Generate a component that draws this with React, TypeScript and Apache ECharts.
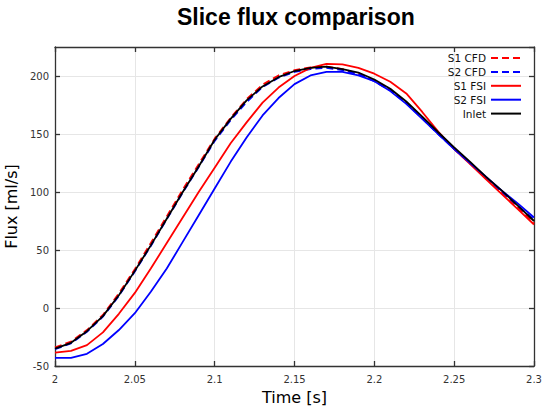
import React, { useEffect, useRef } from "react";
import * as echarts from "echarts";

const times = [
  2.0, 2.01, 2.02, 2.03, 2.04, 2.05, 2.06, 2.07, 2.08, 2.09, 2.1, 2.11, 2.12,
  2.13, 2.14, 2.15, 2.16, 2.17, 2.18, 2.19, 2.2, 2.21, 2.22, 2.23, 2.24, 2.25,
  2.26, 2.27, 2.28, 2.29, 2.3,
];

const s1Cfd = [
  -34, -29, -19, -6, 12.5, 33.5, 56, 79, 102, 124, 146, 164, 180, 192.5, 200.5,
  205, 207.5, 208, 206, 202, 196, 188, 177, 164, 150.5, 137.5, 125, 112, 99.5,
  86.5, 73,
];
const s2Cfd = [
  -35.5, -30.5, -20.5, -7.5, 10.5, 31.5, 53.5, 76.5, 99.5, 121.5, 144, 162,
  177.5, 190.5, 198.5, 203.5, 206, 207, 205, 201.5, 195.5, 187.5, 176.5, 163.5,
  150, 137, 124.5, 112, 100, 88, 76,
];
const s1Fsi = [
  -38.5, -37, -32, -21, -5, 13, 34, 56, 78, 100, 121, 142, 160, 177, 190, 200,
  207, 210.5, 210, 207, 202, 195, 185, 169, 152, 137, 124, 111, 98, 85, 72,
];
const s2Fsi = [
  -43, -43, -39.5, -31, -19, -4.5, 14, 34, 57, 80, 103, 126, 147, 166, 181,
  193, 200.5, 203.5, 203.5, 200.5, 195.5, 187, 176, 163, 150, 137, 125, 113,
  101, 90, 78,
];
const inlet = [
  -35, -30, -20, -7, 11, 32, 54, 77, 100, 122, 145, 163, 179, 191, 199, 204.3,
  207, 208, 206, 203, 197, 189, 178, 165, 151.5, 138.5, 126, 113, 101, 88, 75,
];

const seriesNames = ["S1 CFD", "S2 CFD", "S1 FSI", "S2 FSI", "Inlet"];
const seriesColors = ["#ff0000", "#0000ff", "#ff0000", "#0000ff", "#000000"];
const seriesDashed = [true, true, false, false, false];
const seriesValues = [s1Cfd, s2Cfd, s1Fsi, s2Fsi, inlet];

const FONT = "DejaVu Sans";

export default function App() {
  const ref = useRef<HTMLDivElement>(null);

  useEffect(() => {
    if (!ref.current) return;
    const chart = echarts.init(ref.current, null, { renderer: "svg" });
    const axisLineStyle = { color: "#333333", width: 1.3 };
    const fmt = (v: number) => String(+(+v).toFixed(2));

    chart.setOption({
      animation: false,
      backgroundColor: "#ffffff",
      title: {
        text: "Slice flux comparison",
        left: 172,
        top: 0,
        textStyle: {
          fontFamily: "Liberation Sans",
          fontWeight: "bold",
          fontSize: 23,
          color: "#000000",
        },
      },
      legend: {
        orient: "vertical",
        right: 28,
        top: 52.5,
        align: "right",
        itemWidth: 30,
        itemHeight: 13,
        itemGap: 2.9,
        padding: 0,
        data: seriesNames,
        textStyle: { fontFamily: FONT, fontSize: 10.5, color: "#111111" },
        itemStyle: { opacity: 0 },
      },
      grid: { left: 55, right: 16, top: 47, bottom: 47, containLabel: false, outerBoundsMode: "none" },
      xAxis: [
        {
          type: "value",
          min: 2,
          max: 2.3,
          interval: 0.05,
          position: "bottom",
          name: "Time [s]",
          nameLocation: "middle",
          nameGap: 23,
          nameTextStyle: { fontFamily: FONT, fontSize: 16, color: "#000000" },
          axisLine: { show: true, onZero: false, lineStyle: axisLineStyle },
          axisTick: { show: true, inside: true, length: 5, lineStyle: axisLineStyle },
          axisLabel: { fontFamily: FONT, fontSize: 10, color: "#333333", margin: 8, formatter: fmt },
          splitLine: { show: true, lineStyle: { color: "#e6e6e6", width: 1 } },
        },
        {
          type: "value",
          min: 2,
          max: 2.3,
          interval: 0.05,
          position: "top",
          axisLine: { show: true, onZero: false, lineStyle: axisLineStyle },
          axisTick: { show: true, inside: true, length: 5, lineStyle: axisLineStyle },
          axisLabel: { show: false },
          splitLine: { show: false },
        },
      ],
      yAxis: [
        {
          type: "value",
          min: -50,
          max: 225,
          interval: 50,
          position: "left",
          name: "Flux [ml/s]",
          nameLocation: "middle",
          nameGap: 32,
          nameTextStyle: { fontFamily: FONT, fontSize: 16, color: "#000000" },
          axisLine: { show: true, onZero: false, lineStyle: axisLineStyle },
          axisTick: { show: true, inside: true, length: 5, lineStyle: axisLineStyle },
          axisLabel: { fontFamily: FONT, fontSize: 10, color: "#333333", margin: 6, showMaxLabel: false },
          splitLine: { show: true, lineStyle: { color: "#e6e6e6", width: 1 } },
        },
        {
          type: "value",
          min: -50,
          max: 225,
          interval: 50,
          position: "right",
          axisLine: { show: true, onZero: false, lineStyle: axisLineStyle },
          axisTick: { show: true, inside: true, length: 5, lineStyle: axisLineStyle },
          axisLabel: { show: false },
          splitLine: { show: false },
        },
      ],
      series: seriesNames.map((name, i) => ({
        name,
        type: "line",
        xAxisIndex: 0,
        yAxisIndex: 0,
        data: times.map((t, j) => [t, seriesValues[i][j]]),
        showSymbol: false,
        symbol: "none",
        lineStyle: {
          color: seriesColors[i],
          width: 1.8,
          type: seriesDashed[i] ? [7, 4] : "solid",
        },
        itemStyle: { color: seriesColors[i] },
        z: 2 + i,
      })),
    });

    return () => chart.dispose();
  }, []);

  return (
    <div
      ref={ref}
      style={{ position: "fixed", left: 0, top: 0, width: 550, height: 413, background: "#fff" }}
    />
  );
}
